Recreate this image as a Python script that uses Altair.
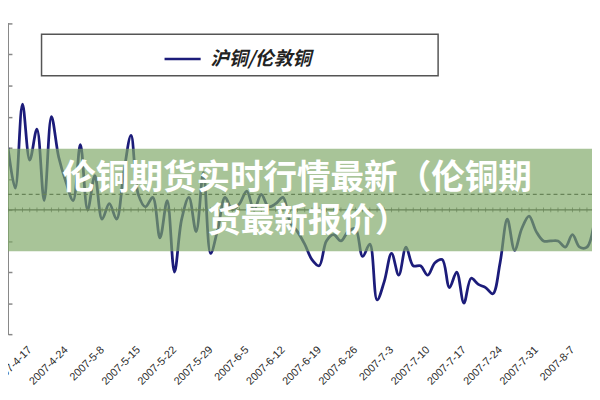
import altair as alt
import pandas as pd

# ---- data -------------------------------------------------------------
# SHFE trading days 2007-04-12 .. 2007-08-10 (Golden Week May 1-7 closed)
days = pd.bdate_range("2007-04-12", "2007-08-10")
holidays = pd.to_datetime(["2007-05-01", "2007-05-02", "2007-05-03", "2007-05-04", "2007-05-07"])
days = [d for d in days if d not in holidays]
dates = [f"{d.year}-{d.month}-{d.day}" for d in days]

# 沪铜/伦敦铜 ratio
ratio = [
    8.10, 7.97, 8.24, 8.06, 8.16, 7.93, 8.20, 8.07, 7.99, 7.93,
    8.11, 7.90, 8.01, 7.87, 7.92, 7.87, 8.02, 8.14, 7.95, 7.91,
    7.94, 7.81, 7.93, 7.70, 7.87, 7.94, 7.83, 8.02, 7.76, 7.84,
    7.94, 7.90, 7.92, 7.96, 7.90, 7.95, 7.91, 7.92, 7.94, 7.86,
    7.83, 7.79, 7.74, 7.72, 7.80, 7.82, 7.80, 7.83, 7.84, 7.75,
    7.79, 7.61, 7.67, 7.76, 7.69, 7.78, 7.72, 7.72, 7.69, 7.73,
    7.74, 7.65, 7.70, 7.60, 7.68, 7.66, 7.65, 7.63, 7.73, 7.87,
    7.77, 7.84, 7.88, 7.83, 7.80, 7.80, 7.80, 7.78, 7.82, 7.78,
    7.78, 7.86,
]
series_name = "沪铜/伦敦铜"

tick_labels = ["2007-4-17", "2007-4-24", "2007-5-8", "2007-5-15", "2007-5-22",
               "2007-5-29", "2007-6-5", "2007-6-12", "2007-6-19", "2007-6-26",
               "2007-7-3", "2007-7-10", "2007-7-17", "2007-7-24", "2007-7-31",
               "2007-8-7"]
tick_index = [5 * k for k in range(len(tick_labels))]

dashed_level = 7.95
axis_level = 7.90
y_ticks = [round(7.5 + 0.1 * k, 1) for k in range(11)]

banner_line1 = "伦铜期货实时行情最新（伦铜期"
banner_line2 = "货最新报价）"

df = pd.DataFrame({
    "idx": list(range(-3, -3 + len(dates))),
    "date": dates,
    "ratio": ratio,
    "series": [series_name] * len(dates),
})

# ---- chart ------------------------------------------------------------
W, H = 592, 315
xscale = alt.Scale(domain=[-3, 77.7], nice=False, zero=False)
yscale = alt.Scale(domain=[7.5, 8.5], nice=False, zero=False)

label_expr = "[" + ",".join(f"'{t}'" for t in tick_labels) + "][round(datum.value/5)]"

x_axis = alt.Axis(values=tick_index, labelExpr=label_expr, labelAngle=315,
                  labelAlign="right", labelBaseline="middle", labelPadding=14,
                  domain=False, ticks=False, grid=False, title=None,
                  labelFontSize=11, labelColor="#2a2a2a", labelFont="Liberation Sans",
                  labelOverlap=False, labelFlush=False)
y_axis = alt.Axis(values=y_ticks, labels=False, domain=False, ticks=True,
                  tickSize=4, offset=-4, tickColor="#888888", tickWidth=1.5,
                  grid=False, title=None)

base = alt.Chart(df)

line = base.mark_line(interpolate="catmull-rom", strokeWidth=2.8, clip=True).encode(
    x=alt.X("idx:Q", scale=xscale, axis=x_axis),
    y=alt.Y("ratio:Q", scale=yscale, axis=y_axis),
    color=alt.Color("series:N", scale=alt.Scale(range=["#1c1c7a"]),
                    legend=alt.Legend(title=None, orient="none", legendX=157, legendY=16,
                                      symbolType="stroke", symbolSize=1340,
                                      symbolStrokeWidth=2.6, labelFontSize=19,
                                      labelFont="Noto Sans CJK SC", labelFontStyle="italic",
                                      labelFontWeight="bold",
                                      labelColor="#222222", labelOffset=8, padding=0)),
)

y_line = base.mark_rule(color="#8a8a8a", strokeWidth=1.5).encode(
    x=alt.XDatum(-3, scale=xscale, axis=x_axis)
)

dashed = alt.Chart(pd.DataFrame({"v": [dashed_level]})).mark_rule(
    color="#3a3a3a", strokeDash=[4, 3], strokeWidth=1.3
).encode(y=alt.Y("v:Q", scale=yscale, axis=y_axis))

axis_rule = alt.Chart(pd.DataFrame({"v": [axis_level]})).mark_rule(
    color="#3a3a3a", strokeWidth=1.3
).encode(y=alt.Y("v:Q", scale=yscale, axis=y_axis))

axis_ticks = base.mark_tick(orient="vertical", size=5, thickness=1,
                            color="#3a3a3a", clip=True).encode(
    x=alt.X("idx:Q", scale=xscale, axis=x_axis),
    y=alt.YDatum(axis_level, scale=yscale, axis=y_axis),
)

legend_box = alt.Chart(pd.DataFrame({"a": [0]})).mark_rect(
    fill="white", stroke="#555555", strokeWidth=1.5
).encode(x=alt.value(34), x2=alt.value(436), y=alt.value(11), y2=alt.value(53))

banner = alt.Chart(pd.DataFrame({"a": [0]})).mark_rect(
    fill="#7fa867", opacity=0.68
).encode(x=alt.value(0), x2=alt.value(W), y=alt.value(127), y2=alt.value(231))

text1 = alt.Chart(pd.DataFrame({"t": [banner_line1]})).mark_text(
    font="Noto Sans CJK SC", fontSize=34, fontWeight="bold", color="white",
    align="center", baseline="middle"
).encode(text="t:N", x=alt.value(293), y=alt.value(158))

text2 = alt.Chart(pd.DataFrame({"t": [banner_line2]})).mark_text(
    font="Noto Sans CJK SC", fontSize=34, fontWeight="bold", color="white",
    align="center", baseline="middle"
).encode(text="t:N", x=alt.value(304), y=alt.value(201))

chart = alt.layer(
    line, legend_box, y_line, dashed, axis_rule, axis_ticks, banner, text1, text2
).properties(
    width=W, height=H,
    autosize=alt.AutoSizeParams(type="none"),
    padding={"left": 0, "top": 13, "right": 0, "bottom": 56},
    background="white",
).configure_view(stroke=None)

chart.save("out.html", embed_options={"renderer": "svg", "actions": False})
